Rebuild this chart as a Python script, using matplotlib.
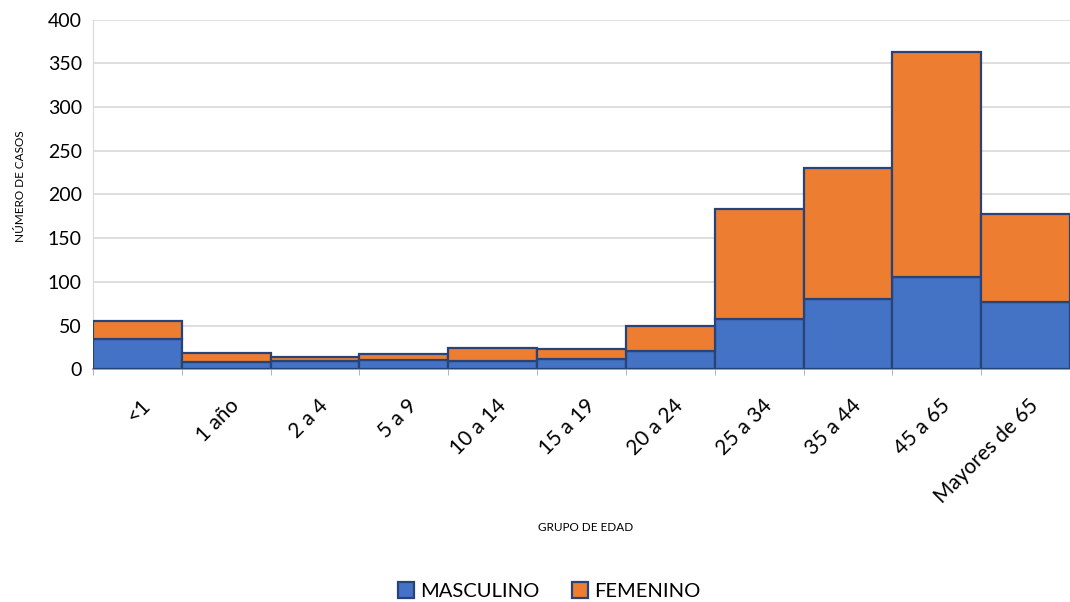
import numpy as np
import matplotlib
matplotlib.use('Agg')
import matplotlib.pyplot as plt
import matplotlib.transforms as mtrans

## data
grupos = ['<1', '1 año', '2 a 4', '5 a 9', '10 a 14', '15 a 19',
          '20 a 24', '25 a 34', '35 a 44', '45 a 65', 'Mayores de 65']
masculino = [35, 8, 9, 11, 10, 12, 21, 57, 80, 106, 77]
totales = [55, 19, 14, 17, 24, 23, 50, 183, 230, 363, 178]
femenino = [t - m for t, m in zip(totales, masculino)]

plt.rcParams['font.family'] = ['Lato', 'DejaVu Sans']

fig = plt.figure(figsize=(10.7, 6.02), dpi=100)
ax = fig.add_axes([0.0869, 0.3866, 0.9131, 0.581])

xx = np.arange(len(grupos))
edge = '#264478'
ax.bar(xx, masculino, width=1.0, color='#4472C4', edgecolor=edge, linewidth=1.6,
       label='MASCULINO', zorder=3)
ax.bar(xx, femenino, width=1.0, bottom=masculino, color='#ED7D31', edgecolor=edge,
       linewidth=1.6, label='FEMENINO', zorder=3)

ax.set_xlim(-0.5, len(grupos) - 0.5)
ax.set_ylim(0, 400)
ax.set_yticks(range(0, 401, 50))
ax.yaxis.grid(True, color='#D9D9D9', linewidth=1.2, zorder=0)
ax.tick_params(axis='y', length=0, labelsize=14, pad=8)

## labels at category centres, small tick marks at boundaries
ax.set_xticks(xx)
ax.set_xticklabels(grupos, rotation=45, ha='right', va='center', rotation_mode='anchor')
ax.tick_params(axis='x', which='major', length=0, labelsize=15, pad=24)
shift = mtrans.ScaledTranslation(10 / 100, 0, fig.dpi_scale_trans)
for lbl in ax.get_xticklabels():
    lbl.set_transform(lbl.get_transform() + shift)
ax.set_xticks(np.arange(-0.5, len(grupos), 1.0), minor=True)
ax.tick_params(axis='x', which='minor', length=4, color='#A6A6A6')

for s in ['top', 'right']:
    ax.spines[s].set_visible(False)
ax.spines['left'].set_color('#D9D9D9')
ax.spines['bottom'].set_color('#8C8C9C')
ax.spines['bottom'].set_linewidth(1.2)

fig.text(0.019, 0.69, 'NÚMERO DE CASOS', fontsize=8.5, rotation=90, ha='center', va='center')
fig.text(0.547, 0.124, 'GRUPO DE EDAD', fontsize=8.5, ha='center', va='center')

fig.legend(loc='center', bbox_to_anchor=(0.513, 0.018), ncol=2, frameon=False,
           fontsize=14.5, handlelength=0.8, handleheight=0.8, columnspacing=1.6,
           handletextpad=0.3)

fig.savefig('out.png', dpi=100)
plt.close(fig)
